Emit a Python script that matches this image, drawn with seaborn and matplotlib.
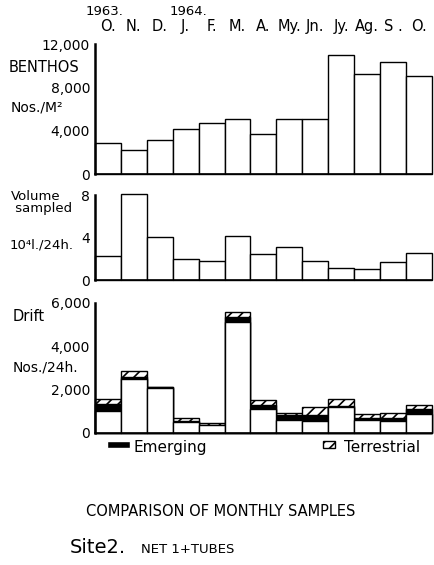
import numpy as np
import pandas as pd
import matplotlib
matplotlib.use("Agg")
import matplotlib.pyplot as plt
import seaborn as sns
from matplotlib.patches import Rectangle

sns.set_style("white")
plt.rcParams['font.family'] = ['DejaVu Sans']
plt.rcParams['hatch.linewidth'] = 1.2
plt.rcParams['text.color'] = 'black'
plt.rcParams['xtick.color'] = 'black'
plt.rcParams['ytick.color'] = 'black'
plt.rcParams['axes.edgecolor'] = 'black'

# --- DATA ---
months = ["O.", "N.", "D.", "J.", "F.", "M.", "A.", "My.", "Jn.", "Jy.", "Ag.", "S .", "O."]
benthos = [2900, 2200, 3150, 4200, 4680, 5050, 3720, 5080, 5080, 10950, 9230, 10300, 9020]
volume = [2.3, 8.1, 4.05, 2.0, 1.8, 4.15, 2.45, 3.15, 1.8, 1.2, 1.08, 1.68, 2.58]
drift_aquatic = [1020, 2500, 2050, 520, 350, 5120, 1110, 590, 560, 1170, 590, 540, 870]
drift_emerging = [300, 60, 60, 40, 30, 230, 160, 230, 260, 50, 90, 140, 210]
drift_terrestrial = [230, 300, 25, 100, 80, 220, 230, 110, 360, 340, 190, 220, 190]

pos = list(range(len(months)))

fig = plt.figure(figsize=(4.34, 5.65), dpi=100)
ax1 = fig.add_axes([0.219, 0.692, 0.776, 0.230])
ax2 = fig.add_axes([0.219, 0.504, 0.776, 0.150])
ax3 = fig.add_axes([0.219, 0.234, 0.776, 0.230])

bar_kw = dict(width=1.0, edgecolor='black', linewidth=1.0, dodge=False)

sns.barplot(x=pos, y=benthos, color='white', ax=ax1, **bar_kw)
sns.barplot(x=pos, y=volume, color='white', ax=ax2, **bar_kw)

# stacked drift: draw totals back to front
tot_em = np.array(drift_aquatic) + np.array(drift_emerging)
tot_all = tot_em + np.array(drift_terrestrial)
sns.barplot(x=pos, y=tot_all, color='white', ax=ax3, hatch='///', **bar_kw)
sns.barplot(x=pos, y=tot_em, color='black', ax=ax3, **bar_kw)
sns.barplot(x=pos, y=drift_aquatic, color='white', ax=ax3, **bar_kw)

for ax, top, ticks, labels in [
        (ax1, 12000, [0, 4000, 8000, 12000], ["0", "4,000", "8,000", "12,000"]),
        (ax2, 8, [0, 4, 8], ["0", "4", "8"]),
        (ax3, 6000, [0, 2000, 4000, 6000], ["0", "2,000", "4,000", "6,000"])]:
    ax.set_xlim(-0.5, 12.5)
    ax.set_ylim(0, top)
    ax.set_yticks(ticks)
    ax.set_yticklabels(labels, fontsize=10)
    ax.tick_params(axis='y', direction='inout', length=5, width=1.2, pad=1)
    ax.set_xticks([])
    for s in ['top', 'right']:
        ax.spines[s].set_visible(False)
    ax.spines['left'].set_linewidth(1.8)
    ax.spines['bottom'].set_linewidth(1.2)
    ax.set_facecolor('none')
    for p in ax.patches:
        p.set_clip_on(False)

# month labels across the top
ax1.xaxis.tick_top()
ax1.set_xticks(pos)
ax1.set_xticklabels(months, fontsize=10.5)
ax1.tick_params(axis='x', length=0, pad=7)
ax1.text(-0.15, 1.2, "1963.", transform=ax1.get_xaxis_transform(), ha='center', va='bottom', fontsize=9.5)
ax1.text(3.1, 1.2, "1964.", transform=ax1.get_xaxis_transform(), ha='center', va='bottom', fontsize=9.5)

# panel labels
fig.text(0.02, 0.873, "BENTHOS", fontsize=10.5)
fig.text(0.025, 0.802, "Nos./M²", fontsize=10)
fig.text(0.025, 0.625, "Volume\n sampled", fontsize=9.5, linespacing=0.85)
fig.text(0.022, 0.56, "10⁴l./24h.", fontsize=9.5)
fig.text(0.03, 0.432, "Drift", fontsize=10.5)
fig.text(0.03, 0.342, "Nos./24h.", fontsize=10)

# legend
fig.patches.append(Rectangle((0.247, 0.207), 0.053, 0.013, facecolor='black',
                             transform=fig.transFigure, figure=fig))
fig.text(0.307, 0.2, "Emerging", fontsize=11)
fig.patches.append(Rectangle((0.745, 0.207), 0.028, 0.013, facecolor='white', edgecolor='black',
                             hatch='///', linewidth=1, transform=fig.transFigure, figure=fig))
fig.text(0.792, 0.2, "Terrestrial", fontsize=11)

fig.text(0.508, 0.086, "COMPARISON OF MONTHLY SAMPLES", ha='center', fontsize=10.5)
fig.text(0.16, 0.022, "Site2.", fontsize=14)
fig.text(0.325, 0.022, "NET 1+TUBES", fontsize=9.5)

fig.savefig("out.png", dpi=100)
